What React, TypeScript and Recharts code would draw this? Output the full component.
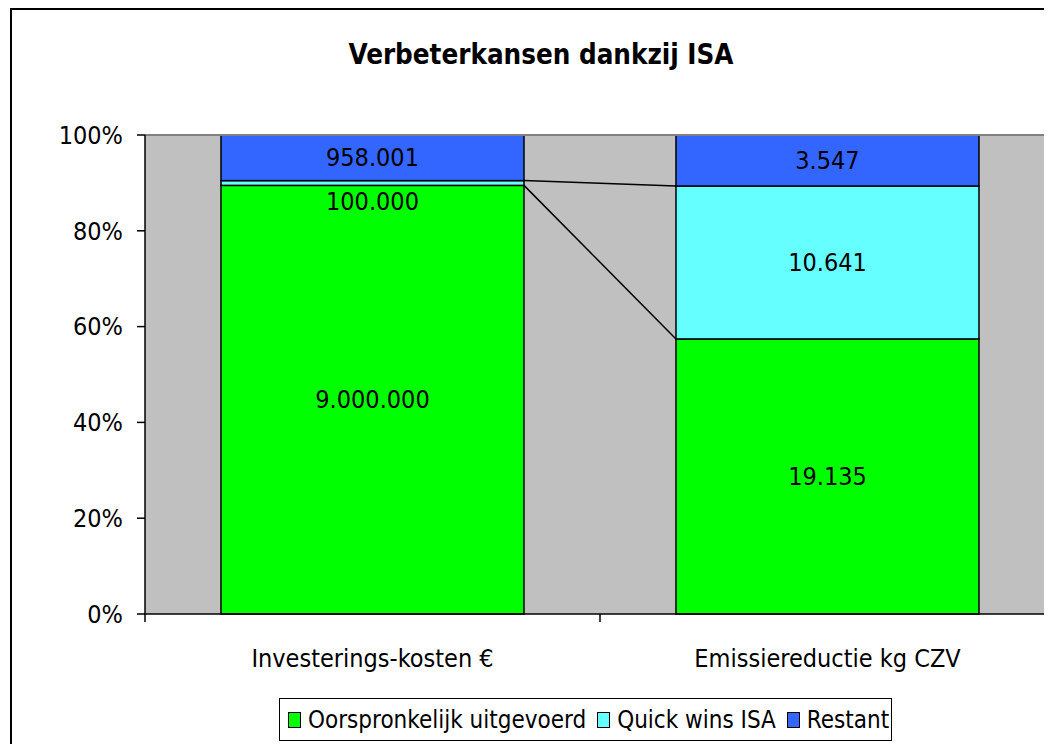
import React from 'react';
import { BarChart, Bar, XAxis, YAxis, CartesianGrid, LabelList, Legend, ReferenceLine } from 'recharts';

const categories = ['Investerings-kosten €', 'Emissiereductie kg CZV'];
const seriesNames = ['Oorspronkelijk uitgevoerd', 'Quick wins ISA', 'Restant'];
const oorspronkelijk = [9000000, 19135];
const quickWins = [100000, 10641];
const restant = [958001, 3547];
const yTicks = [0, 0.2, 0.4, 0.6, 0.8, 1];
const seriesKeys = ['oorspronkelijk', 'quickWins', 'restant'];
const colors = ['#00FF00', '#66FFFF', '#3366FF'];

const data = categories.map((name, i) => ({
  name,
  oorspronkelijk: oorspronkelijk[i],
  quickWins: quickWins[i],
  restant: restant[i],
}));

const FONT = '"DejaVu Sans Condensed", "DejaVu Sans", sans-serif';
const FS = 25;

const fmt = (n: number) => String(Math.round(n)).replace(/\B(?=(\d{3})+(?!\d))/g, '.');

// geometry store so each segment can draw the series line to the previous bar's segment
const geo: Record<string, Record<number, { x: number; y: number; w: number }>> = {};

function makeShape(key: string, fill: string) {
  return (props: any) => {
    const { x, y, width, height, payload } = props;
    const idx = categories.indexOf(payload?.name);
    if (!geo[key]) geo[key] = {};
    geo[key][idx] = { x, y, w: width };
    const prev = idx > 0 ? geo[key][idx - 1] : null;
    return (
      <g>
        <rect x={x} y={y} width={width} height={height} fill={fill} stroke="#000" strokeWidth={1.5} />
        {prev && (
          <line x1={prev.x + prev.w} y1={prev.y} x2={x} y2={y} stroke="#000" strokeWidth={1.5} />
        )}
      </g>
    );
  };
}

const renderLabel = (props: any) => {
  const { x, y, width, height, value } = props;
  const small = height < 24;
  const cy = small ? y + height + 16 : y + height / 2;
  return (
    <text
      x={x + width / 2}
      y={cy}
      textAnchor="middle"
      dominantBaseline="central"
      fontFamily={FONT}
      fontSize={FS}
      fill="#000"
    >
      {fmt(Number(value))}
    </text>
  );
};

const XTick = (props: any) => {
  const { x, y, payload } = props;
  const off = payload?.offset ?? 0;
  return (
    <g>
      {off ? <line x1={x - off} y1={y} x2={x - off} y2={y + 8} stroke="#000" strokeWidth={1.5} /> : null}
      <text x={x} y={y + 44} textAnchor="middle" dominantBaseline="central" fontFamily={FONT} fontSize={FS} fill="#000">
        {payload.value}
      </text>
    </g>
  );
};

const renderLegend = () => (
  <div
    style={{
      display: 'inline-flex',
      alignItems: 'center',
      border: '1.5px solid #000',
      background: '#fff',
      height: 43,
      width: 613,
      padding: '0 0 0 8px',
      fontFamily: FONT,
      fontSize: 24,
      boxSizing: 'border-box',
      color: '#000',
      whiteSpace: 'nowrap',
    }}
  >
    {seriesNames.map((n, i) => (
      <span key={n} style={{ display: 'inline-flex', alignItems: 'center', marginRight: i < 2 ? 11 : 0 }}>
        <span
          style={{
            width: 13,
            height: 16,
            background: colors[i],
            border: '1.5px solid #000',
            boxSizing: 'border-box',
            marginRight: 7,
            display: 'inline-block',
          }}
        />
        {n}
      </span>
    ))}
  </div>
);

export default function App() {
  return (
    <div style={{ position: 'relative', width: 1044, height: 736, overflow: 'hidden', background: '#fff' }}>
      <div
        style={{
          position: 'absolute',
          left: 2,
          top: 0,
          width: 1200,
          height: 900,
          border: '2px solid #000',
          boxSizing: 'border-box',
        }}
      />
      <div
        style={{
          position: 'absolute',
          left: 0,
          top: 30,
          width: 1066,
          textAlign: 'center',
          fontFamily: FONT,
          fontWeight: 'bold',
          fontSize: 27.5,
          color: '#000',
        }}
      >
        Verbeterkansen dankzij ISA
      </div>
      <div style={{ position: 'absolute', left: 0, top: 0 }}>
        <BarChart
          width={1110}
          height={736}
          data={data}
          stackOffset="expand"
          barCategoryGap="16.7%"
          margin={{ top: 127, right: 63, bottom: 3, left: 0 }}
        >
          <CartesianGrid fill="#C0C0C0" horizontal={false} vertical={false} />
          <ReferenceLine y={1} stroke="#808080" strokeWidth={2} />
          <XAxis
            dataKey="name"
            tick={<XTick />}
            tickLine={false}
            tickSize={0}
            tickMargin={0}
            height={84}
            axisLine={{ stroke: '#000', strokeWidth: 1.5 }}
            interval={0}
          />
          <YAxis
            width={137}
            domain={[0, 1]}
            ticks={yTicks}
            tickFormatter={(v: number) => `${Math.round(v * 100)}%`}
            tickSize={8}
            tickMargin={14}
            axisLine={{ stroke: '#000', strokeWidth: 1.5 }}
            tickLine={{ stroke: '#000', strokeWidth: 1.5 }}
            tick={{ fontFamily: FONT, fontSize: FS, fill: '#000' }}
          />
          <Legend
            content={renderLegend}
            verticalAlign="bottom"
            wrapperStyle={{ left: 271, width: 613, height: 43 }}
          />
          {seriesKeys.map((k, i) => (
            <Bar
              key={k}
              dataKey={k}
              name={seriesNames[i]}
              stackId="s"
              fill={colors[i]}
              shape={makeShape(k, colors[i])}
              isAnimationActive={false}
            >
              <LabelList dataKey={k} content={renderLabel} />
            </Bar>
          ))}
        </BarChart>
      </div>
    </div>
  );
}
